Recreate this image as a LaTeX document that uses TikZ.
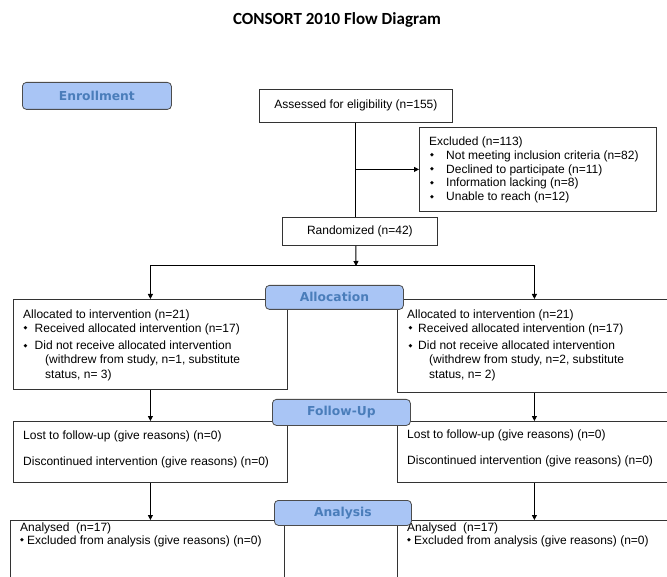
\documentclass[tikz,border=0pt]{standalone}
\usepackage{fontspec}
\setmainfont{Liberation Sans}
\newfontfamily\titlefont{Carlito}
\newfontfamily\labelfont{DejaVu Sans}
\usetikzlibrary{arrows.meta}
\definecolor{lblfill}{HTML}{A9C5F5}
\definecolor{lbltext}{HTML}{4A7DBA}
\begin{document}
\begin{tikzpicture}[x=1pt,y=-1pt,
  box/.style={draw=black!80, line width=0.8pt, fill=white, inner sep=0pt, anchor=north west, font=\fontsize{12}{14}\selectfont},
  lbl/.style={draw=black!70, line width=0.8pt, fill=lblfill, rounded corners=4pt, anchor=north west, inner sep=0pt, font=\labelfont\bfseries\fontsize{12.3}{14}\selectfont, text=lbltext},
  txt/.style={anchor=base west, inner sep=0pt, font=\fontsize{12}{14}\selectfont},
  bul/.style={anchor=center, inner sep=0pt, font=\labelfont\fontsize{5}{6}\selectfont},
  arr/.style={line width=1pt, -{Triangle[length=5pt,width=5pt]}},
  ln/.style={line width=1pt}]
\useasboundingbox (0,0) rectangle (667,577);
\clip (0,0) rectangle (667,577);

\node[font=\titlefont\bfseries\fontsize{17}{20}\selectfont, inner sep=0pt] (title) at (337,20) {CONSORT 2010 Flow Diagram};

% boxes
\node[box, minimum width=193pt, minimum height=33pt] (assess) at (259,89) {Assessed for eligibility (n=155)};
\node[box, minimum width=237pt, minimum height=84pt] (excl) at (419,127) {};
\node[box, minimum width=155pt, minimum height=28pt] (rand) at (282,217) {Randomized (n=42)};
\node[box, minimum width=274pt, minimum height=90pt] (alloc1) at (13,299) {};
\node[box, minimum width=274pt, minimum height=93pt] (alloc2) at (397,299) {};
\node[box, minimum width=274pt, minimum height=61pt] (fu1) at (13,421) {};
\node[box, minimum width=274pt, minimum height=61pt] (fu2) at (397,421) {};
\node[box, minimum width=274pt, minimum height=80pt] (an1) at (10,520) {};
\node[box, minimum width=274pt, minimum height=80pt] (an2) at (397,520) {};

% excluded text
\node[txt] (ex0) at (429,146) {Excluded (n=113)};
\node[bul] (exb1) at (432,155.5) {◆};
\node[txt] (ex1) at (446,159.5) {Not meeting inclusion criteria (n=82)};
\node[bul] (exb2) at (432,169.5) {◆};
\node[txt] (ex2) at (446,173.5) {Declined to participate (n=11)};
\node[bul] (exb3) at (432,183) {◆};
\node[txt] (ex3) at (446,187) {Information lacking (n=8)};
\node[bul] (exb4) at (432,197) {◆};
\node[txt] (ex4) at (446,201) {Unable to reach (n=12)};

% allocation left
\node[txt] (al0) at (23,318.5) {Allocated to intervention (n=21)};
\node[bul] (alb1) at (25.5,328.5) {◆};
\node[txt] (al1) at (34.5,332.5) {Received allocated intervention (n=17)};
\node[bul] (alb2) at (25.5,346) {◆};
\node[txt] (al2) at (34.5,350) {Did not receive allocated intervention};
\node[txt] (al3) at (45,364) {(withdrew from study, n=1, substitute};
\node[txt] (al4) at (45,378) {status, n= 3)};

% allocation right
\node[txt] (ar0) at (407,318.5) {Allocated to intervention (n=21)};
\node[bul] (arb1) at (410.5,328.5) {◆};
\node[txt] (ar1) at (418,332.5) {Received allocated intervention (n=17)};
\node[bul] (arb2) at (410.5,346) {◆};
\node[txt] (ar2) at (418,350) {Did not receive allocated intervention};
\node[txt] (ar3) at (429,364) {(withdrew from study, n=2, substitute};
\node[txt] (ar4) at (429,378) {status, n= 2)};

% follow-up
\node[txt] (fl1) at (23,439) {Lost to follow-up (give reasons) (n=0)};
\node[txt] (fl2) at (23,465) {Discontinued intervention (give reasons) (n=0)};
\node[txt] (fr1) at (407,438) {Lost to follow-up (give reasons) (n=0)};
\node[txt] (fr2) at (407,464) {Discontinued intervention (give reasons) (n=0)};

% analysis
\node[txt] (nl0) at (20,531) {Analysed~~(n=17)};
\node[bul] (nlb) at (22,540) {◆};
\node[txt] (nl1) at (27,544) {Excluded from analysis (give reasons) (n=0)};
\node[txt] (nr0) at (407,531) {Analysed~~(n=17)};
\node[bul] (nrb) at (409,540) {◆};
\node[txt] (nr1) at (414,544) {Excluded from analysis (give reasons) (n=0)};

% connectors
\draw[ln] (assess.south) -- (assess.south |- rand.north);
\coordinate (ej) at (assess.south |- excl.west);
\draw[arr] (ej) -- (excl.west);
\coordinate (split) at (356,266);
\draw[arr] (assess.south |- rand.south) -- (split);
\draw[arr] (split) -| (alloc1.north);
\draw[arr] (split) -| (alloc2.north);
\draw[arr] (alloc1.south) -- (alloc1.south |- fu1.north);
\draw[arr] (alloc2.south) -- (alloc2.south |- fu2.north);
\draw[arr] (fu1.south) -- (an1.north -| fu1.south);
\draw[arr] (fu2.south) -- (an2.north -| fu2.south);

% stage labels
\node[lbl, minimum width=149pt, minimum height=27pt] (enr) at (22,82) {Enrollment};
\node[lbl, minimum width=138pt, minimum height=24pt] (alc) at (265,285) {Allocation};
\node[lbl, minimum width=138pt, minimum height=26pt] (fol) at (272,399) {Follow-Up};
\node[lbl, minimum width=137pt, minimum height=25pt] (ana) at (274,500) {Analysis};
\end{tikzpicture}
\end{document}
